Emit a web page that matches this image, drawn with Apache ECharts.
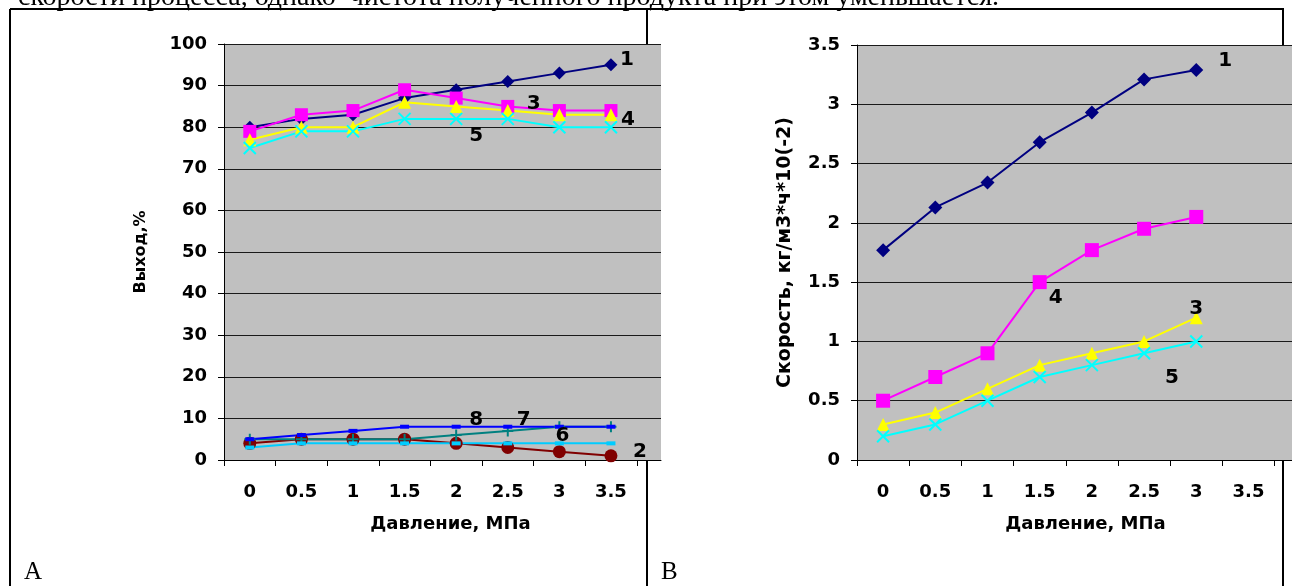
<!DOCTYPE html>
<html><head><meta charset="utf-8">
<script src="https://cdn.jsdelivr.net/npm/echarts@6/dist/echarts.min.js"></script>
<style>html,body{margin:0;padding:0;background:#fff}#c{width:1292px;height:586px}</style>
</head><body><div id="c"></div>
<script>
// ---------- data ----------
const pressureA = [0, 0.5, 1, 1.5, 2, 2.5, 3, 3.5];
const pressureB = [0, 0.5, 1, 1.5, 2, 2.5, 3];
const xTickLabels = ['0', '0.5', '1', '1.5', '2', '2.5', '3', '3.5'];
// Chart A: Выход, %
const yieldS1 = [80, 82, 83, 87, 89, 91, 93, 95];
const yieldS4 = [79, 83, 84, 89, 87, 85, 84, 84];
const yieldS3 = [77, 80, 80, 86, 85, 84, 83, 83];
const yieldS5 = [75, 79, 79, 82, 82, 82, 80, 80];
const yieldS2 = [4, 5, 5, 5, 4, 3, 2, 1];
const yieldS7 = [5, 5, 5, 5, 6, 7, 8, 8];
const yieldS8 = [5, 6, 7, 8, 8, 8, 8, 8];
const yieldS6 = [3, 4, 4, 4, 4, 4, 4, 4];
// Chart B: Скорость
const rateS1 = [1.77, 2.13, 2.34, 2.68, 2.93, 3.21, 3.29];
const rateS4 = [0.5, 0.7, 0.9, 1.5, 1.77, 1.95, 2.05];
const rateS3 = [0.3, 0.4, 0.6, 0.8, 0.9, 1.0, 1.2];
const rateS5 = [0.2, 0.3, 0.5, 0.7, 0.8, 0.9, 1.0];

const topText = 'скорости процесса, однако  чистота полученного продукта при этом уменьшается.';
const FONT = 'DejaVu Sans';

// ---------- helpers ----------
const X_SYM = 'path://M0,0L10,10M10,0L0,10';
const PLUS_SYM = 'path://M5,0L5,10M0,5L10,5';

function mk(gi, xs, ys, color, symbol, size, opts) {
  opts = opts || {};
  const stroke = opts.stroke;
  const lab = opts.label;
  return {
    type: 'line', xAxisIndex: gi, yAxisIndex: gi,
    symbol: symbol, symbolSize: size, showAllSymbol: true,
    lineStyle: { color: color, width: opts.lw || 2 },
    itemStyle: stroke ? { color: color, borderColor: color, borderWidth: 2 } : { color: color, borderWidth: 0 },
    z: opts.z || 2,
    data: xs.map((x, i) => {
      const it = { value: [x, ys[i]] };
      if (lab && lab.idx === i) {
        it.label = { show: true, position: 'inside', offset: lab.off, formatter: lab.text,
          color: '#000', fontSize: 20, fontWeight: 'bold', fontFamily: FONT, textBorderWidth: 0 };
      }
      return it;
    })
  };
}

function xAxisFor(gi, max, shift) {
  const ticks = pressureA.map(v => v - 0.25).concat([pressureA[pressureA.length - 1] + 0.25]);
  return {
    type: 'value', gridIndex: gi, min: -0.25, max: max,
    name: 'Давление, МПа', nameLocation: 'middle', nameGap: 55,
    nameTextStyle: { color: '#000', fontSize: 18, fontWeight: 'bold', fontFamily: FONT, padding: [0, 0, 0, shift] },
    axisLine: { show: true, onZero: false, lineStyle: { color: '#000', width: 1 } },
    axisTick: { show: true, length: 6, customValues: ticks, lineStyle: { color: '#000' } },
    axisLabel: { customValues: pressureA, margin: 23, color: '#000', fontSize: 18, fontWeight: 'bold', fontFamily: FONT,
      formatter: v => { const i = pressureA.indexOf(v); return i >= 0 ? xTickLabels[i] : ''; } },
    splitLine: { show: false }
  };
}

function yAxisFor(gi, max, interval, name, gap, fs) {
  return {
    type: 'value', gridIndex: gi, min: 0, max: max, interval: interval,
    name: name, nameLocation: 'middle', nameGap: gap,
    nameTextStyle: { color: '#000', fontSize: fs, fontWeight: 'bold', fontFamily: FONT },
    axisLine: { show: true, onZero: false, lineStyle: { color: '#000', width: 1 } },
    axisTick: { show: true, length: 6, lineStyle: { color: '#000' } },
    axisLabel: { margin: 17, color: '#000', fontSize: 18, fontWeight: 'bold', fontFamily: FONT },
    splitLine: { show: true, lineStyle: { color: '#1a1a1a', width: 1 } }
  };
}

const chart = echarts.init(document.getElementById('c'), null, { renderer: 'canvas' });
const option = {
  animation: false,
  backgroundColor: '#fff',
  grid: [
    { left: 224, top: 44, width: 437, height: 416, show: true, backgroundColor: '#C0C0C0', borderWidth: 0 },
    { left: 857, top: 45, width: 435, height: 415, show: true, backgroundColor: '#C0C0C0', borderWidth: 0 }
  ],
  xAxis: [xAxisFor(0, 3.985, 16), xAxisFor(1, 3.917, 22)],
  yAxis: [yAxisFor(0, 100, 10, 'Выход,%', 75, 16), yAxisFor(1, 3.5, 0.5, 'Скорость, кг/м3*ч*10(-2)', 62, 19)],
  series: [
    // chart A
    mk(0, pressureA, yieldS1, '#000080', 'diamond', 13, { label: { idx: 7, text: '1', off: [16, -5] } }),
    mk(0, pressureA, yieldS4, '#FF00FF', 'rect', 13, { label: { idx: 7, text: '4', off: [17, 9] } }),
    mk(0, pressureA, yieldS3, '#FFFF00', 'triangle', 13, { label: { idx: 5, text: '3', off: [26, -7] } }),
    mk(0, pressureA, yieldS5, '#00FFFF', X_SYM, 12, { stroke: true, label: { idx: 4, text: '5', off: [20, 17] } }),
    mk(0, pressureA, yieldS2, '#800000', 'circle', 13, { label: { idx: 7, text: '2', off: [29, -4] } }),
    mk(0, pressureA, yieldS7, '#008080', PLUS_SYM, 11, { stroke: true, label: { idx: 5, text: '7', off: [16, -11] } }),
    mk(0, pressureA, yieldS8, '#0000FF', 'rect', [9, 4], { label: { idx: 4, text: '8', off: [20, -7] } }),
    mk(0, pressureA, yieldS6, '#00CCFF', 'rect', [9, 4], { label: { idx: 6, text: '6', off: [3, -8] } }),
    // chart B
    mk(1, pressureB, rateS1, '#000080', 'diamond', 14, { label: { idx: 6, text: '1', off: [29, -9] } }),
    mk(1, pressureB, rateS4, '#FF00FF', 'rect', 14, { label: { idx: 3, text: '4', off: [16, 16] } }),
    mk(1, pressureB, rateS3, '#FFFF00', 'triangle', 13, { label: { idx: 6, text: '3', off: [0, -9] } }),
    mk(1, pressureB, rateS5, '#00FFFF', X_SYM, 12, { stroke: true, label: { idx: 5, text: '5', off: [28, 25] } })
  ],
  graphic: [
    { type: 'text', x: 18, y: 12, z: 10, style: { text: topText, font: '28px "Liberation Serif"', fill: '#000', verticalAlign: 'bottom' } },
    { type: 'line', z: 10, shape: { x1: 10, y1: 9, x2: 1284, y2: 9 }, style: { stroke: '#000', lineWidth: 2 } },
    { type: 'line', z: 10, shape: { x1: 10, y1: 9, x2: 10, y2: 586 }, style: { stroke: '#000', lineWidth: 2 } },
    { type: 'line', z: 10, shape: { x1: 647, y1: 9, x2: 647, y2: 44 }, style: { stroke: '#000', lineWidth: 2 } },
    { type: 'line', z: 10, shape: { x1: 647, y1: 461, x2: 647, y2: 586 }, style: { stroke: '#000', lineWidth: 2 } },
    { type: 'line', z: 10, shape: { x1: 1283, y1: 9, x2: 1283, y2: 45 }, style: { stroke: '#000', lineWidth: 2 } },
    { type: 'line', z: 10, shape: { x1: 1283, y1: 461, x2: 1283, y2: 586 }, style: { stroke: '#000', lineWidth: 2 } },
    { type: 'text', x: 24, y: 585, z: 10, style: { text: 'A', font: '25px "Liberation Serif"', fill: '#000', verticalAlign: 'bottom' } },
    { type: 'text', x: 661, y: 585, z: 10, style: { text: 'B', font: '25px "Liberation Serif"', fill: '#000', verticalAlign: 'bottom' } }
  ]
};
chart.setOption(option);
</script>
</body></html>
